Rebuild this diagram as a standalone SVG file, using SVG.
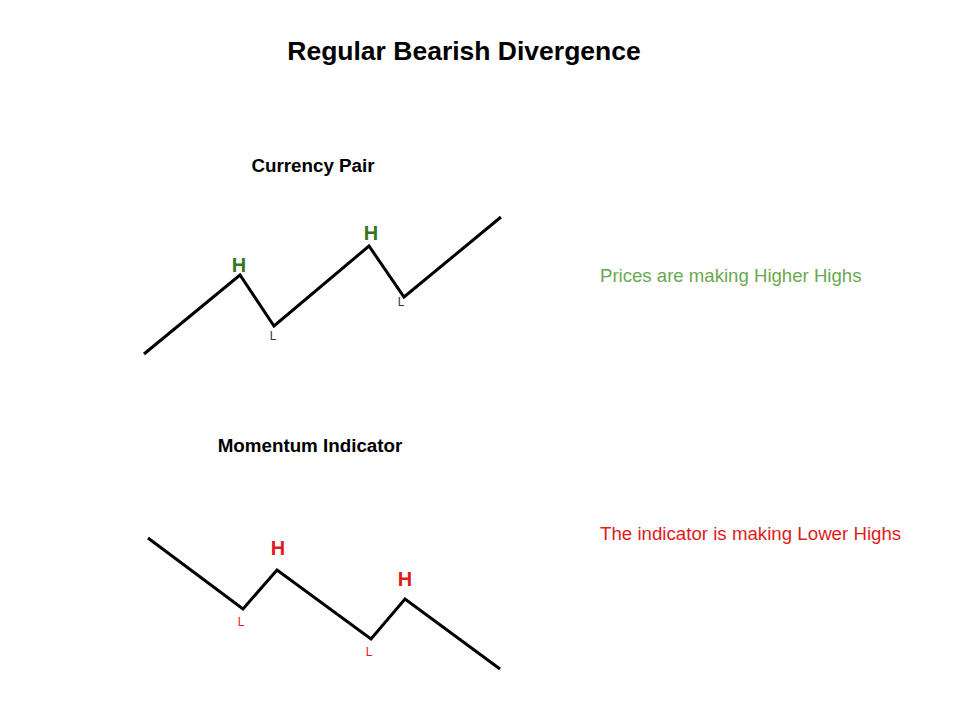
<svg xmlns="http://www.w3.org/2000/svg" width="960" height="720" viewBox="0 0 960 720">
<style>
text{font-family:"Liberation Sans",Arial,sans-serif}
.title{font-size:26.5px;font-weight:bold;fill:#000}
.sub{font-size:18.8px;font-weight:bold;fill:#000}
.line{fill:none;stroke:#000;stroke-width:3;stroke-linejoin:miter}
.hg{font-size:20px;font-weight:bold;fill:#38761d}
.hr{font-size:20px;font-weight:bold;fill:#e01b1b}
.lg{font-size:12px;fill:#333}
.lr{font-size:12px;fill:#e01b1b}
.note-g{font-size:18.6px;fill:#6aa84f}
.note-r{font-size:18.7px;fill:#e01b1b}
</style>
<rect width="960" height="720" fill="#fff"/>
<text class="title" x="464" y="60" text-anchor="middle">Regular Bearish Divergence</text>
<g id="price">
<text class="sub" x="313" y="172" text-anchor="middle">Currency Pair</text>
<polyline class="line" points="144,354 240,275 274,326 369,246 404,297 501,217"/>
<text class="hg" x="239" y="272" text-anchor="middle">H</text>
<text class="hg" x="371" y="240" text-anchor="middle">H</text>
<text class="lg" x="273" y="340" text-anchor="middle">L</text>
<text class="lg" x="401" y="306" text-anchor="middle">L</text>
<text class="note-g" x="600" y="282">Prices are making Higher Highs</text>
</g>
<g id="indicator">
<text class="sub" x="310" y="452" text-anchor="middle">Momentum Indicator</text>
<polyline class="line" points="148,538 243,609 277,570 371,639 405,599 500,669"/>
<text class="hr" x="278" y="555" text-anchor="middle">H</text>
<text class="hr" x="405" y="586" text-anchor="middle">H</text>
<text class="lr" x="241" y="626" text-anchor="middle">L</text>
<text class="lr" x="369" y="656" text-anchor="middle">L</text>
<text class="note-r" x="600" y="540">The indicator is making Lower Highs</text>
</g>
</svg>
